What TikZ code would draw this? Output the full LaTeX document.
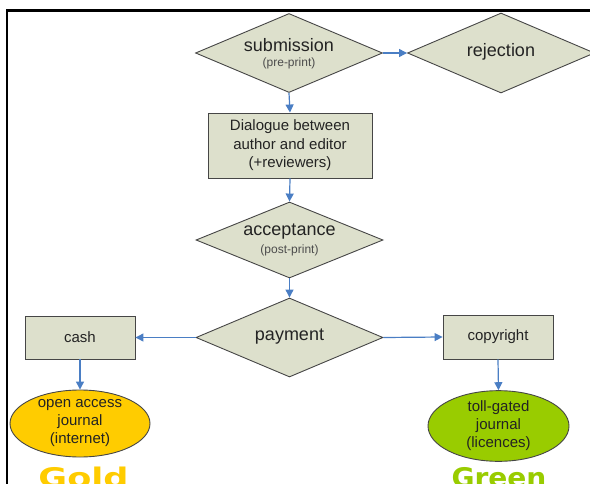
\documentclass[tikz,border=0pt]{standalone}
\usepackage{fontspec}
\setmainfont{Liberation Sans}
\newfontfamily\widebold{DejaVu Sans}[BoldFont={DejaVu Sans Bold}]
\usetikzlibrary{shapes.geometric,arrows.meta}

\definecolor{shapefill}{RGB}{221,224,204}
\definecolor{shapeline}{RGB}{70,70,70}
\definecolor{flowblue}{RGB}{74,126,196}
\definecolor{goldfill}{RGB}{255,204,0}
\definecolor{greenfill}{RGB}{153,204,0}
\definecolor{inktext}{RGB}{35,35,35}

\tikzset{
  decision/.style={diamond, draw=shapeline, fill=shapefill, line width=0.9bp,
    inner sep=0pt, minimum width=187bp, minimum height=79bp},
  stepbox/.style={rectangle, draw=shapeline, fill=shapefill, line width=0.9bp,
    inner sep=0pt, text=inktext, align=center,
    font=\fontsize{15bp}{18.5bp}\selectfont},
  journal/.style={ellipse, draw=shapeline, line width=0.9bp, inner sep=0pt,
    text=inktext, align=center, font=\fontsize{15bp}{18bp}\selectfont},
  flow/.style={draw=flowblue, line width=1.2bp,
    -{Triangle[length=8bp,width=8bp]}},
  bigword/.style={anchor=base, inner sep=0pt,
    font=\widebold\bfseries\fontsize{27bp}{30bp}\selectfont},
  bigtxt/.style={inner sep=0pt, text=inktext, font=\fontsize{18bp}{20bp}\selectfont},
  smalltxt/.style={inner sep=0pt, text=black!70, font=\fontsize{12bp}{14bp}\selectfont}
}

\begin{document}
\begin{tikzpicture}[x=1bp,y=-1bp]
  \useasboundingbox (0,0) rectangle (590,484);
  \fill[white] (0,0) rectangle (590,484);

  % frame edges
  \draw[line width=2.2bp, black] (7,490) -- (7,10.5) -- (595,10.5);

  % decisions
  \node[decision] (sub) at (289,53) {};
  \node[bigtxt] (subtxt) at (289,45.5) {submission};
  \node[smalltxt] (subnote) at (289,63.5) {(pre-print)};

  \node[decision, minimum height=80bp] (rej) at (501,53) {};
  \node[bigtxt] (rejtxt) at (501,52) {rejection};

  \node[decision, minimum height=76bp] (acc) at (289.5,240) {};
  \node[bigtxt] (acctxt) at (289.5,232) {acceptance};
  \node[smalltxt] (accnote) at (289.5,250) {(post-print)};

  \node[decision] (pay) at (289.5,337.5) {};
  \node[bigtxt] (paytxt) at (289.5,337) {payment};

  % steps
  \node[stepbox, minimum width=164bp, minimum height=65bp] (dlg) at (290,145.5)
    {Dialogue between\\author and editor\\(+reviewers)};
  \node[stepbox, minimum width=110bp, minimum height=43bp] (cash) at (80,337.5) {cash};
  \node[stepbox, minimum width=110bp, minimum height=44bp] (copy) at (498,337) {copyright};

  % outcomes
  \node[journal, fill=goldfill, minimum width=140bp, minimum height=67bp] (oa) at (80,423.5)
    {open access\\journal\\(internet)};
  \node[journal, fill=greenfill, minimum width=141bp, minimum height=68bp] (tg) at (498.5,426)
    {toll-gated\\journal\\(licences)};

  % labels under the outcomes
  \node[bigword, text=goldfill, xscale=1.3] (gold) at (83.5,487) {Gold};
  \node[bigword, text=greenfill, xscale=1.04] (green) at (499,487) {Green};

  % connectors
  \draw[flow] (sub.east) -- (rej.west);
  \draw[flow] (sub.south) -- (dlg.north);
  \draw[flow] (dlg.south) -- (acc.north);
  \draw[flow] (acc.south) -- (pay.north);
  \draw[flow] (pay.west) -- (cash.east);
  \draw[flow] (pay.east) -- (copy.west);
  \draw[flow] (cash.south) -- (oa.north);
  \draw[flow] (copy.south) -- (tg.north);
\end{tikzpicture}
\end{document}
